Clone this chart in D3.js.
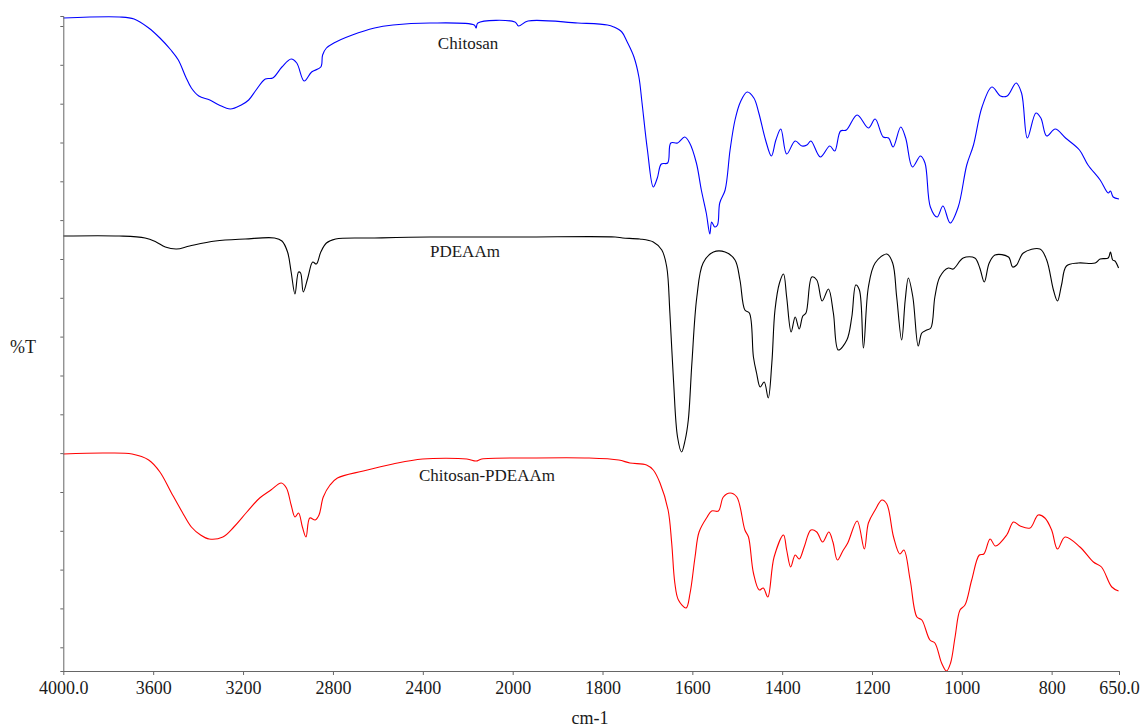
<!DOCTYPE html>
<html>
<head>
<meta charset="utf-8">
<script src="https://cdn.jsdelivr.net/npm/d3@7"></script>
<style>
  body { margin: 0; background: #fff; }
  svg text { font-family: "Liberation Serif", "Times New Roman", serif; fill: #1a1a1a; }
  .axis path, .axis line { stroke: #666; }
  .axis text { font-size: 18px; }
  .spectrum { fill: none; stroke-width: 1.1; }
  .legend-ftir { font-size: 17px; }
</style>
</head>
<body>
<svg width="1145" height="727"></svg>
<script>
// wavenumber ticks (cm-1) and their labels
const xTicks = [4000, 3600, 3200, 2800, 2400, 2000, 1800, 1600, 1400, 1200, 1000, 800, 650];
const xTickLabels = ['4000.0', '3600', '3200', '2800', '2400', '2000', '1800', '1600', '1400', '1200', '1000', '800', '650.0'];
// unlabelled %T ticks
const yTicks = [2.37, 6.26, 10.14, 14.02, 17.9, 21.79, 25.67, 29.55, 33.44, 37.32, 41.2, 45.09, 48.97, 52.85, 56.73, 60.62, 64.5];

const seriesNames = ['Chitosan', 'PDEAAm', 'Chitosan-PDEAAm'];
const seriesColors = ['#0000ff', '#000000', '#ff0000'];

// [wavenumber, %T (offset, arbitrary units)]
const chitosan = [
  [4000, 65.3], [3751, 65.4], [3685, 65.2], [3620, 64.3], [3570, 63.3], [3521, 62.1], [3488, 61.1],
  [3455, 59.4], [3430, 58.3], [3397, 57.5], [3348, 57.1], [3307, 56.6], [3257, 56.2], [3208, 56.6],
  [3175, 57.1], [3142, 58.1], [3101, 59.2], [3068, 59.3], [3027, 60.4], [2986, 61.2], [2961, 60.8],
  [2928, 59.0], [2895, 59.9], [2854, 60.4], [2846, 61.6], [2829, 62.3], [2796, 62.8], [2714, 63.6],
  [2615, 64.3], [2533, 64.6], [2368, 64.8], [2171, 64.6], [2163, 64.3], [2155, 64.8], [1995, 64.9],
  [1987, 64.5], [1966, 65.0], [1855, 64.8], [1789, 64.6], [1775, 64.4], [1757, 63.9], [1745, 62.9],
  [1730, 61.4], [1719, 59.4], [1712, 56.8], [1700, 52.1], [1687, 48.4], [1678, 49.3], [1669, 50.7],
  [1655, 50.8], [1648, 52.8], [1633, 52.8], [1617, 53.4], [1606, 52.8], [1591, 50.8], [1580, 48.1],
  [1569, 45.8], [1561, 43.7], [1557, 44.9], [1550, 44.4], [1544, 44.6], [1539, 46.8], [1527, 48.1],
  [1516, 52.1], [1505, 55.1], [1493, 56.9], [1478, 57.9], [1463, 57.3], [1452, 55.8], [1437, 53.1],
  [1424, 51.5], [1414, 53.1], [1403, 54.2], [1390, 51.7], [1371, 53.0], [1356, 52.5], [1345, 52.6],
  [1336, 53.0], [1315, 51.4], [1294, 52.5], [1283, 52.0], [1270, 54.0], [1257, 54.1], [1233, 55.6],
  [1208, 54.3], [1193, 55.2], [1175, 53.4], [1163, 53.3], [1153, 52.4], [1136, 54.4], [1125, 53.3],
  [1110, 50.4], [1092, 51.5], [1082, 50.8], [1070, 46.4], [1055, 45.4], [1042, 46.5], [1026, 44.8],
  [1008, 46.4], [989, 50.6], [974, 52.6], [955, 56.4], [933, 58.4], [914, 57.5], [899, 57.5],
  [879, 58.8], [867, 57.8], [854, 53.3], [835, 55.8], [824, 55.3], [811, 53.5], [792, 54.2],
  [769, 53.3], [738, 52.1], [719, 50.6], [692, 49.1], [674, 47.8], [669, 48.0], [663, 47.4], [650, 47.2]
];

const pdeaam = [
  [4000, 43.5], [3751, 43.5], [3636, 43.3], [3587, 42.9], [3546, 42.4], [3496, 42.2], [3438, 42.5],
  [3323, 43.0], [3191, 43.2], [3060, 43.3], [3027, 43.0], [3002, 41.9], [2986, 39.9], [2969, 37.7],
  [2953, 39.9], [2944, 39.8], [2932, 37.9], [2912, 39.3], [2890, 40.9], [2874, 40.7], [2854, 41.9],
  [2829, 42.8], [2788, 43.2], [2615, 43.3], [2368, 43.4], [1978, 43.4], [1772, 43.4], [1755, 43.3],
  [1717, 43.2], [1687, 42.9], [1668, 42.1], [1657, 40.4], [1650, 35.8], [1642, 29.1], [1633, 23.4],
  [1624, 21.9], [1616, 23.1], [1609, 25.1], [1601, 30.8], [1590, 37.4], [1576, 40.8], [1553, 41.9],
  [1527, 41.9], [1505, 41.1], [1494, 39.1], [1483, 36.1], [1473, 35.8], [1464, 31.4], [1457, 29.8],
  [1449, 28.4], [1440, 28.9], [1431, 27.3], [1423, 30.8], [1416, 36.1], [1406, 38.8], [1397, 39.7],
  [1390, 37.4], [1380, 33.9], [1371, 35.4], [1362, 34.2], [1354, 35.5], [1347, 35.8], [1334, 39.4],
  [1323, 39.1], [1311, 37.0], [1297, 38.2], [1286, 35.8], [1275, 32.1], [1256, 33.1], [1245, 35.4],
  [1236, 38.6], [1228, 38.1], [1219, 32.3], [1208, 38.4], [1193, 40.8], [1167, 41.7], [1154, 40.8],
  [1145, 37.4], [1134, 33.1], [1126, 37.1], [1119, 39.3], [1109, 37.4], [1097, 32.5], [1089, 33.8],
  [1078, 34.1], [1069, 34.3], [1060, 37.4], [1049, 39.4], [1030, 40.3], [1019, 40.2], [997, 41.3],
  [971, 41.3], [960, 40.3], [950, 38.9], [939, 40.8], [926, 41.6], [896, 41.4], [887, 40.4],
  [878, 40.6], [863, 41.8], [826, 42.2], [811, 41.1], [796, 38.1], [787, 37.0], [778, 38.6],
  [767, 40.5], [741, 40.8], [703, 40.8], [692, 41.2], [674, 41.3], [669, 41.9], [664, 41.1],
  [659, 41.0], [651, 40.3]
];

const chitosanPdeaam = [
  [4000, 21.7], [3817, 21.8], [3694, 21.7], [3620, 21.1], [3570, 19.9], [3521, 17.9], [3471, 15.9],
  [3430, 14.4], [3389, 13.6], [3351, 13.2], [3290, 13.4], [3241, 14.4], [3183, 15.9], [3126, 17.3],
  [3076, 18.1], [3030, 18.8], [3007, 18.3], [2986, 16.6], [2969, 15.4], [2953, 15.8], [2936, 14.4],
  [2920, 13.4], [2903, 15.3], [2879, 15.1], [2862, 15.6], [2843, 17.4], [2813, 18.6], [2780, 19.3],
  [2665, 20.0], [2533, 20.7], [2401, 21.2], [2204, 21.2], [2163, 21.0], [2138, 21.2], [1962, 21.3],
  [1830, 21.3], [1764, 21.1], [1739, 20.8], [1702, 20.6], [1687, 20.1], [1672, 18.8], [1654, 16.1],
  [1646, 12.8], [1639, 8.8], [1631, 7.1], [1614, 6.3], [1605, 7.8], [1594, 11.4], [1585, 13.9],
  [1567, 15.4], [1557, 16.0], [1542, 16.0], [1531, 17.4], [1516, 17.8], [1501, 17.4], [1483, 14.1],
  [1475, 13.4], [1464, 9.8], [1451, 8.1], [1442, 8.3], [1432, 7.4], [1418, 11.4], [1397, 13.6],
  [1390, 12.1], [1381, 10.4], [1371, 11.6], [1362, 11.2], [1351, 12.4], [1336, 14.1], [1323, 13.9],
  [1310, 12.9], [1296, 13.9], [1287, 12.9], [1277, 11.1], [1265, 12.0], [1254, 12.8], [1233, 15.0],
  [1217, 12.2], [1208, 14.8], [1193, 16.1], [1178, 17.1], [1167, 16.7], [1152, 13.4], [1138, 11.7],
  [1129, 12.1], [1115, 9.1], [1100, 5.4], [1089, 5.1], [1071, 3.1], [1060, 2.8], [1045, 0.8],
  [1034, 0.0], [1025, 0.8], [1015, 3.4], [1004, 6.1], [993, 6.6], [978, 9.1], [961, 11.6],
  [951, 11.7], [937, 13.2], [925, 12.5], [900, 13.6], [885, 14.9], [870, 14.5], [848, 14.3],
  [830, 15.6], [815, 15.3], [800, 14.1], [787, 12.2], [770, 13.4], [737, 12.4], [707, 10.9],
  [689, 10.4], [666, 8.4], [651, 8.0]
];

const seriesData = [chitosan, pdeaam, chitosanPdeaam];
// where each name sits: [wavenumber, %T]
const labelAnchors = [[2333, 62.2], [2368, 41.4], [2417, 19.0]];

function ftirChart() {
  const svg = d3.select('svg');
  const scales = {};

  function setupScales() {
    // instrument scale change at 2000 cm-1 (right part expanded x2)
    scales.x = d3.scaleLinear().domain([4000, 2000, 650]).range([63.3, 512.7, 1119]);
    scales.y = d3.scaleLinear().domain([0, 65.5]).range([671, 16]);
  }

  function drawAxes() {
    const { x, y } = scales;

    const axisX = d3.axisBottom(x)
      .tickValues(xTicks)
      .tickFormat((d, i) => xTickLabels[i])
      .tickSizeInner(4)
      .tickSizeOuter(0)
      .tickPadding(6);

    svg.append('g')
      .attr('class', 'axis axis-x')
      .attr('transform', `translate(0,${y.range()[0]})`)
      .call(axisX);

    const axisY = d3.axisLeft(y)
      .tickValues(yTicks)
      .tickFormat('')
      .tickSizeInner(3)
      .tickSizeOuter(3);

    svg.append('g')
      .attr('class', 'axis axis-y')
      .attr('transform', `translate(${x.range()[0]},0)`)
      .call(axisY);

    svg.append('text')
      .attr('x', 590)
      .attr('y', 724)
      .attr('text-anchor', 'middle')
      .style('font-size', '18px')
      .text('cm-1');

    svg.append('text')
      .attr('x', 10)
      .attr('y', 353)
      .style('font-size', '18px')
      .text('%T');
  }

  function drawSpectra() {
    const { x, y } = scales;
    const line = d3.line()
      .x(d => x(d[0]))
      .y(d => y(d[1]))
      .curve(d3.curveCatmullRom.alpha(0.5));

    svg.append('g')
      .selectAll('.spectrum')
      .data(seriesData)
      .join('path')
      .attr('class', 'spectrum')
      .attr('stroke', (d, i) => seriesColors[i])
      .attr('d', line);

    svg.append('g')
      .selectAll('.legend-ftir')
      .data(seriesNames)
      .join('text')
      .attr('class', 'legend-ftir')
      .attr('x', (d, i) => x(labelAnchors[i][0]))
      .attr('y', (d, i) => y(labelAnchors[i][1]))
      .text(d => d);
  }

  setupScales();
  drawSpectra();
  drawAxes();
}

ftirChart();
</script>
</body>
</html>
